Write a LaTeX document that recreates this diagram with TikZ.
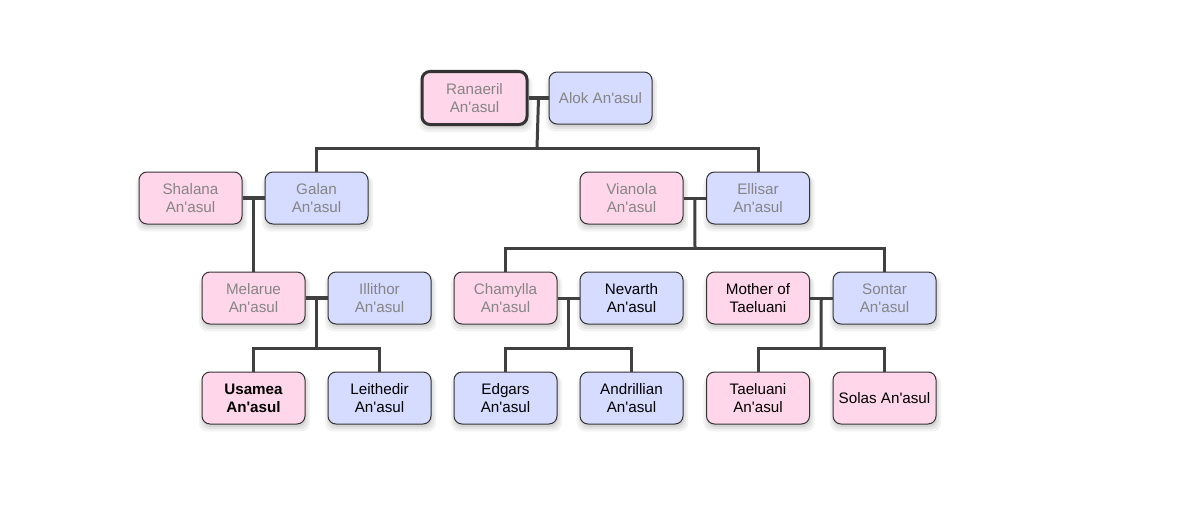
\documentclass[tikz,border=0pt]{standalone}
\usepackage{fontspec}
\setmainfont{Liberation Sans}[Ligatures=TeXOff]
\usetikzlibrary{shadows,calc}
\definecolor{pinkf}{HTML}{FFD6EA}
\definecolor{bluef}{HTML}{D6DCFF}
\definecolor{dead}{HTML}{858585}
\definecolor{edgec}{HTML}{404040}
\definecolor{bordc}{HTML}{333333}
\begin{document}
\begin{tikzpicture}[x=1pt,y=-1pt,
 person/.style={draw=bordc, line width=1pt, rounded corners=8pt, minimum width=103pt, minimum height=52pt,
   align=center, font=\fontsize{15.2}{18}\selectfont, inner sep=2pt,
   general shadow={fill=black, opacity=0.05, shadow xshift=1pt, shadow yshift=-5pt, shadow scale=1.08},
   general shadow={fill=black, opacity=0.06, shadow xshift=1pt, shadow yshift=-4pt, shadow scale=1.04},
   general shadow={fill=black, opacity=0.07, shadow xshift=1pt, shadow yshift=-3pt}},
 fem/.style={person, fill=pinkf},
 mal/.style={person, fill=bluef},
 gone/.style={text=dead},
 link/.style={draw=edgec, line width=3pt},
 couple/.style={draw=edgec, line width=4pt}]
\useasboundingbox (0,0) rectangle (1180,527);
% row 1
\node[fem, gone, line width=3pt, minimum width=105pt, minimum height=53pt] (ran) at (474.5,98) {Ranaeril\\An'asul};
\node[mal, gone] (alok) at (600.5,98) {Alok An'asul};
% row 2
\node[fem, gone] (sha) at (190.5,198) {Shalana\\An'asul};
\node[mal, gone] (gal) at (316.5,198) {Galan\\An'asul};
\node[fem, gone] (via) at (631.5,198) {Vianola\\An'asul};
\node[mal, gone] (ell) at (758,198) {Ellisar\\An'asul};
% row 3
\node[fem, gone] (mel) at (253.5,298) {Melarue\\An'asul};
\node[mal, gone] (ill) at (379.5,298) {Illithor\\An'asul};
\node[fem, gone] (cha) at (505.5,298) {Chamylla\\An'asul};
\node[mal] (nev) at (631.5,298) {Nevarth\\An'asul};
\node[fem] (mot) at (758,298) {Mother of\\Taeluani};
\node[mal, gone] (son) at (884.5,298) {Sontar\\An'asul};
% row 4
\node[fem, font=\fontsize{15.2}{18}\selectfont\bfseries] (usa) at (253.5,398) {Usamea\\An'asul};
\node[mal] (lei) at (379.5,398) {Leithedir\\An'asul};
\node[mal] (edg) at (505.5,398) {Edgars\\An'asul};
\node[mal] (and) at (631.5,398) {Andrillian\\An'asul};
\node[fem] (tae) at (758,398) {Taeluani\\An'asul};
\node[fem] (sol) at (884.5,398) {Solas An'asul};
% couples
\draw[couple] (ran.east) -- (alok.west);
\draw[couple] (sha.east) -- (gal.west);
\draw[link] (via.east) -- (ell.west);
\draw[couple] (mel.east) -- (ill.west);
\draw[link] (cha.east) -- (nev.west);
\draw[link] (mot.east) -- (son.west);
% junctions
\coordinate (j1) at ($(ran.east)!0.5!(alok.west)$);
\coordinate (b1) at (537,148);
\coordinate (j2) at ($(sha.east)!0.5!(gal.west)$);
\coordinate (j3) at ($(via.east)!0.5!(ell.west)$);
\coordinate (b3) at (695,248);
\coordinate (j4) at ($(mel.east)!0.5!(ill.west)$);
\coordinate (b4) at (316.5,348);
\coordinate (j5) at ($(cha.east)!0.5!(nev.west)$);
\coordinate (b5) at (568.5,348);
\coordinate (j6) at ($(mot.east)!0.5!(son.west)$);
\coordinate (b6) at (821,348);
% descent lines
\draw[link] (j1) -- (b1);
\draw[link] (gal.north) |- (b1) -| (ell.north);
\draw[link] (j2) -- (mel.north);
\draw[link] (j3) -- (b3);
\draw[link] (cha.north) |- (b3) -| (son.north);
\draw[link] (j4) -- (b4);
\draw[link] (usa.north) |- (b4) -| (lei.north);
\draw[link] (j5) -- (b5);
\draw[link] (edg.north) |- (b5) -| (and.north);
\draw[link] (j6) -- (b6);
\draw[link] (tae.north) |- (b6) -| (sol.north);
\end{tikzpicture}
\end{document}
